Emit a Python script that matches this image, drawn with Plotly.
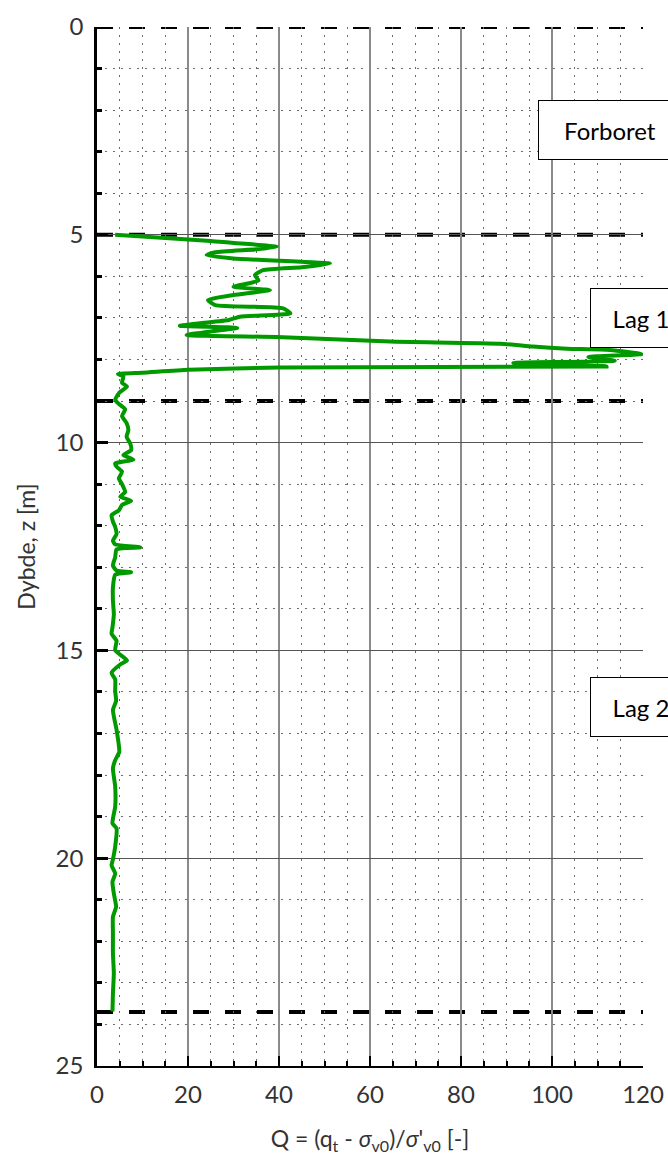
import plotly.graph_objects as go

# CPT profile: depth z [m] and normalised cone resistance Q [-]
depth_z = [5.00, 5.05, 5.15, 5.29, 5.35, 5.42, 5.49, 5.57, 5.69, 5.78, 5.85, 5.97, 6.10, 6.25,
           6.33, 6.45, 6.57, 6.69, 6.77, 6.89, 6.97, 7.05, 7.13, 7.19, 7.24, 7.31, 7.41, 7.46,
           7.57, 7.62, 7.69, 7.74, 7.77, 7.87, 7.94, 8.03, 8.08, 8.17, 8.19, 8.25, 8.32, 8.35,
           8.40, 8.56, 8.65, 8.80, 8.97, 9.05, 9.20, 9.36, 9.53, 9.70, 9.86, 10.02, 10.18, 10.30,
           10.41, 10.50, 10.58, 10.70, 10.86, 11.00, 11.19, 11.30, 11.40, 11.50, 11.63, 11.75,
           11.90, 12.03, 12.20, 12.36, 12.45, 12.52, 12.57, 12.76, 12.96, 13.08, 13.12, 13.18,
           13.49, 13.80, 14.13, 14.45, 14.60, 14.77, 15.00, 15.24, 15.34, 15.54, 15.70, 15.98,
           16.22, 16.43, 16.91, 17.44, 17.64, 17.84, 18.28, 18.76, 19.16, 19.28, 19.72, 20.03,
           20.17, 20.37, 20.57, 20.85, 21.17, 21.41, 21.81, 22.29, 22.77, 23.25, 23.69]
q_norm = [4.0, 11.6, 25.0, 39.5, 35.0, 26.0, 24.1, 30.0, 51.2, 45.0, 36.5, 34.7, 35.5, 30.0,
          38.0, 30.0, 24.4, 26.0, 40.9, 42.5, 31.4, 29.0, 22.5, 18.2, 30.8, 26.2, 19.7, 39.5,
          64.4, 88.6, 95.8, 103.3, 112.7, 119.7, 108.0, 113.8, 91.5, 112.0, 40.0, 20.0, 10.0, 4.6,
          5.8, 5.5, 6.6, 4.9, 4.0, 4.6, 6.2, 5.5, 6.5, 6.9, 6.5, 7.3, 7.5, 5.8,
          8.0, 4.0, 4.3, 5.5, 4.8, 5.5, 6.2, 5.1, 7.5, 5.5, 4.8, 3.2,
          3.5, 4.0, 4.3, 3.5, 4.0, 9.5, 4.3, 4.0, 3.5, 4.3, 7.5, 4.0,
          3.5, 3.5, 3.7, 3.4, 3.2, 4.3, 4.0, 6.6, 5.1, 3.2, 4.0, 4.0,
          4.2, 3.5, 4.3, 4.9, 4.0, 3.5, 4.0, 4.0, 3.4, 4.3, 4.0, 3.5,
          3.2, 4.0, 3.4, 3.7, 4.2, 3.5, 3.5, 3.5, 3.7, 3.5, 3.4]

# Layer boundaries [m]
layer_bounds = [0, 5, 9, 23.7]

# Layer labels: text, Q position of box left edge, depth of box centre, box width px
layer_labels = ["Forboret", "Lag 1", "Lag 2"]
label_q = [96.9, 108.4, 108.4]
label_z = [2.48, 7.0, 16.36]
label_w = [140, 98, 98]

FONT = "Lato, 'Open Sans', sans-serif"
TXT = "#333333"

fig = go.Figure()
fig.add_trace(go.Scatter(
    x=q_norm, y=depth_z, mode="lines",
    line=dict(color="rgb(0,153,0)", width=4, shape="spline", smoothing=0.5),
    showlegend=False, hoverinfo="skip"))

for zb in layer_bounds:
    fig.add_shape(type="line", xref="paper", yref="y", x0=0, x1=1, y0=zb, y1=zb,
                  line=dict(color="black", width=4, dash="16px,16px"), layer="below")

for txt, qx, zc, w in zip(layer_labels, label_q, label_z, label_w):
    fig.add_annotation(x=qx, y=zc, xref="x", yref="y", text=txt, showarrow=False,
                       xanchor="left", yanchor="middle", align="center",
                       width=w, height=56, borderpad=1,
                       bgcolor="white", bordercolor="black", borderwidth=1,
                       font=dict(family=FONT, size=24, color="black"))

fig.update_xaxes(
    range=[0, 120], dtick=20, tick0=0, automargin=False,
    showgrid=True, gridcolor="#8a8a8a", gridwidth=1.6,
    minor=dict(dtick=5, showgrid=True, gridcolor="#6a6a6a", gridwidth=1,
               griddash="1.5px,6.5px", ticks="inside", ticklen=5, tickwidth=1.5,
               tickcolor="black"),
    ticks="inside", ticklen=10, tickwidth=1.5, tickcolor="black",
    showline=True, linecolor="black", linewidth=2,
    zeroline=False, ticklabelstandoff=6,
    tickfont=dict(family=FONT, size=24, color=TXT),
    title=dict(text="Q = (q<sub>t</sub> - <i>σ</i><sub>v0</sub>)/<i>σ</i>'<sub>v0</sub> [-]",
               font=dict(family=FONT, size=23, color=TXT), standoff=24),
)
fig.update_yaxes(
    range=[25, 0], dtick=5, tick0=0, automargin=False,
    showgrid=True, gridcolor="#555555", gridwidth=1.2,
    minor=dict(dtick=1, showgrid=True, gridcolor="#6a6a6a", gridwidth=1,
               griddash="1.5px,6.5px", ticks="inside", ticklen=5, tickwidth=2.5,
               tickcolor="black"),
    ticks="inside", ticklen=11, tickwidth=2.5, tickcolor="black",
    showline=True, linecolor="black", linewidth=2.5,
    zeroline=False, ticklabelstandoff=6,
    tickfont=dict(family=FONT, size=24, color=TXT),
    title=dict(text="Dybde, z [m]", font=dict(family=FONT, size=23, color=TXT),
               standoff=14),
)

fig.update_layout(
    width=668, height=1161,
    margin=dict(l=97, r=25, t=27, b=95),
    plot_bgcolor="white", paper_bgcolor="white",
    showlegend=False,
)

fig.write_html("out.html")
